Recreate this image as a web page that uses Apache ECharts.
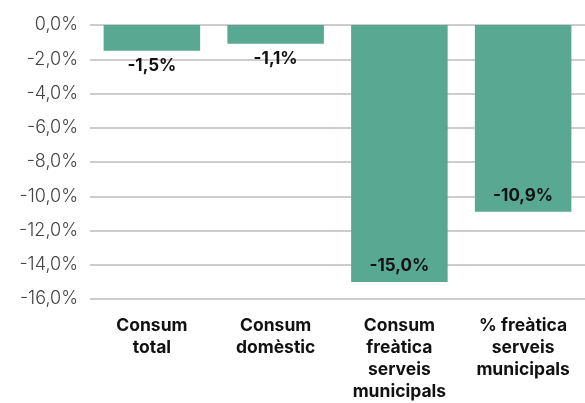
<!DOCTYPE html>
<html lang="ca">
  <head>
    <meta charset="UTF-8" />
    <title>Consum</title>
    <script src="https://cdn.jsdelivr.net/npm/echarts@6/dist/echarts.min.js"></script>
    <style>
      html, body { margin: 0; padding: 0; background: #fff; }
      .echarts { width: 585px; height: 403px; }
    </style>
  </head>
  <body>
    <div class="echarts"></div>
    <script>
      // dades
      const categories = ['Consum\ntotal', 'Consum\ndomèstic', 'Consum\nfreàtica\nserveis\nmunicipals', '% freàtica\nserveis\nmunicipals']
      const values = [-1.5, -1.1, -15.0, -10.9]
      const labelPos = ['bottom', 'bottom', 'insideBottom', 'insideBottom']

      const fmt = (v) => v.toFixed(1).replace('.', ',') + '%'

      const myCharts = echarts.init(document.querySelector('.echarts'))

      const option = {
        animation: false,
        textStyle: { fontFamily: 'Inter' },
        grid: { left: 90, right: 0, top: 25, bottom: 102 },
        xAxis: {
          type: 'category',
          data: categories,
          position: 'bottom',
          axisLine: { show: false },
          axisTick: { show: false },
          axisLabel: {
            interval: 0,
            margin: 16,
            color: '#111',
            fontSize: 17.5,
            fontWeight: 'bold',
            lineHeight: 22,
            verticalAlign: 'top'
          }
        },
        yAxis: {
          type: 'value',
          min: -16,
          max: 0,
          interval: 2,
          axisLine: { show: false },
          axisTick: { show: false },
          axisLabel: {
            color: '#444',
            fontSize: 18,
            fontWeight: 300,
            margin: 12,
            formatter: (v) => fmt(v)
          },
          splitLine: { lineStyle: { color: '#bdbdbd', width: 1.5 } }
        },
        series: [
          {
            type: 'bar',
            barWidth: '78%',
            itemStyle: { color: '#58a892' },
            data: values.map((v, i) => ({
              value: v,
              label: { position: labelPos[i] }
            })),
            label: {
              show: true,
              color: '#111',
              fontSize: 17,
              fontWeight: 'bold',
              distance: 7,
              formatter: (p) => fmt(p.value)
            }
          }
        ]
      }

      myCharts.setOption(option)
    </script>
  </body>
</html>
